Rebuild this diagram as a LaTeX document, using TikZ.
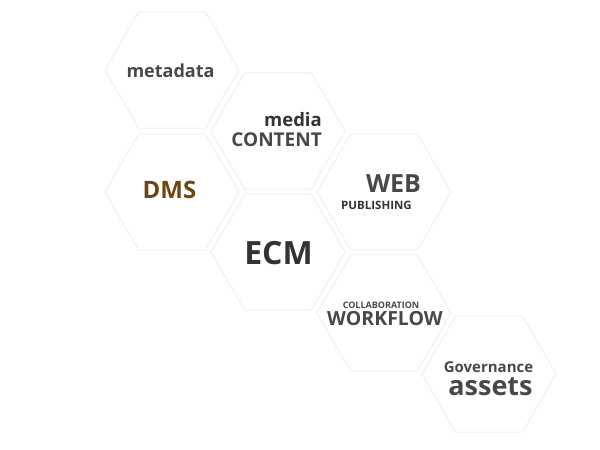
\documentclass[tikz,border=0pt]{standalone}
\usepackage{fontspec}
\setmainfont{Open Sans}
\usepackage{xcolor}
\usetikzlibrary{shapes.geometric}
\definecolor{hexline}{RGB}{240,240,240}
\definecolor{darktext}{RGB}{51,51,51}
\definecolor{midtext}{RGB}{72,72,72}
\definecolor{dmsbrown}{RGB}{112,70,16}
\newcommand{\hexfont}[1]{\fontsize{#1bp}{#1bp}\selectfont\bfseries}

\begin{document}
\begin{tikzpicture}[
        x=1bp, y=-1bp,
        hexa/.style={draw=hexline, line width=1bp, regular polygon,
            regular polygon sides=6, minimum size=134bp, inner sep=0pt},
        word/.style={inner sep=0pt, anchor=base, text=midtext},
        ]
        \useasboundingbox (0,0) rectangle (600,450);

        % hexagons
        \node[hexa] (meta) at (172, 70) {};
        \node[hexa] (media) at (278, 131) {};
        \node[hexa] (dms) at (172, 192) {};
        \node[hexa] (web) at (384, 192) {};
        \node[hexa] (ecm) at (278, 252) {};
        \node[hexa] (flow) at (384, 313) {};
        \node[hexa] (gov) at (489, 374) {};

        % metadata
        \node[word] (metatext) at (170.5, 78) {\hexfont{18}metadata};

        % media content
        \node[word, anchor=base east, text=darktext] (mediatext) at (322, 127) {\hexfont{18.5}media};
        \node[word, anchor=base east] (contenttext) at (322, 147) {\hexfont{19}CONTENT};

        % DMS
        \node[word, text=dmsbrown] (dmstext) at (169.5, 199) {\hexfont{24}DMS};

        % web publishing
        \node[word] (webtext) at (393.5, 193) {\hexfont{25}WEB};
        \node[word, text=darktext] (pubtext) at (376.5, 210) {\hexfont{11.5}PUBLISHING};

        % ECM
        \node[word, text=darktext] (ecmtext) at (278.5, 265) {\hexfont{32}ECM};

        % collaboration workflow
        \node[word] (collabtext) at (381, 308) {\hexfont{9}COLLABORATION};
        \node[word] (flowtext) at (385, 325) {\hexfont{19.5}WORKFLOW};

        % governance assets
        \node[word] (govtext) at (488.5, 372) {\hexfont{15}Governance};
        \node[word] (assettext) at (490.5, 395) {\hexfont{27}assets};
    \end{tikzpicture}
\end{document}
